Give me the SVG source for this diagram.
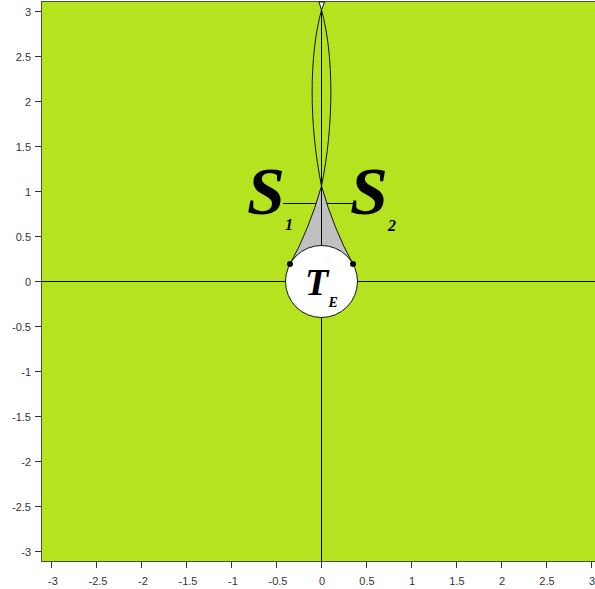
<svg xmlns="http://www.w3.org/2000/svg" width="595" height="589" viewBox="0 0 595 589">
<style>
.ax{stroke:#000;stroke-width:1;fill:none}
.tk{stroke:#333;stroke-width:1}
.lb{font-family:"Liberation Sans",Arial,sans-serif;font-size:11px;fill:#333}
.big{font-family:"Liberation Serif","Times New Roman",serif;font-weight:bold;font-style:italic;fill:#000}
.curve{stroke:#111;stroke-width:1;fill:none}
</style>
<rect x="0" y="0" width="595" height="589" fill="#fff"/>
<rect id="plot" x="41.5" y="1.5" width="560" height="560" fill="#b5e320" stroke="#4a4f3a" stroke-width="1"/>
<g id="xticks">
<g class="tk">
<line x1="51.5" y1="562" x2="51.5" y2="568"/><line x1="96.5" y1="562" x2="96.5" y2="568"/><line x1="141.5" y1="562" x2="141.5" y2="568"/><line x1="186.5" y1="562" x2="186.5" y2="568"/><line x1="231.5" y1="562" x2="231.5" y2="568"/><line x1="276.5" y1="562" x2="276.5" y2="568"/><line x1="321.5" y1="562" x2="321.5" y2="568"/><line x1="366.5" y1="562" x2="366.5" y2="568"/><line x1="411.5" y1="562" x2="411.5" y2="568"/><line x1="456.5" y1="562" x2="456.5" y2="568"/><line x1="501.5" y1="562" x2="501.5" y2="568"/><line x1="546.5" y1="562" x2="546.5" y2="568"/><line x1="591.5" y1="562" x2="591.5" y2="568"/>
</g>
<g class="lb" text-anchor="middle">
<text x="53" y="585">-3</text><text x="98" y="585">-2.5</text><text x="143" y="585">-2</text><text x="188" y="585">-1.5</text><text x="233" y="585">-1</text><text x="278" y="585">-0.5</text><text x="322" y="585">0</text><text x="367" y="585">0.5</text><text x="412" y="585">1</text><text x="457" y="585">1.5</text><text x="502" y="585">2</text><text x="547" y="585">2.5</text><text x="592" y="585">3</text>
</g>
</g>
<g id="yticks">
<g class="tk">
<line x1="35" y1="11.5" x2="41" y2="11.5"/><line x1="35" y1="56.5" x2="41" y2="56.5"/><line x1="35" y1="101.5" x2="41" y2="101.5"/><line x1="35" y1="146.5" x2="41" y2="146.5"/><line x1="35" y1="191.5" x2="41" y2="191.5"/><line x1="35" y1="236.5" x2="41" y2="236.5"/><line x1="35" y1="281.5" x2="41" y2="281.5"/><line x1="35" y1="326.5" x2="41" y2="326.5"/><line x1="35" y1="371.5" x2="41" y2="371.5"/><line x1="35" y1="416.5" x2="41" y2="416.5"/><line x1="35" y1="461.5" x2="41" y2="461.5"/><line x1="35" y1="506.5" x2="41" y2="506.5"/><line x1="35" y1="551.5" x2="41" y2="551.5"/>
</g>
<g class="lb" text-anchor="end">
<text x="31" y="15.5">3</text><text x="31" y="60.5">2.5</text><text x="31" y="105.5">2</text><text x="31" y="150.5">1.5</text><text x="31" y="195.5">1</text><text x="31" y="240.5">0.5</text><text x="31" y="285.5">0</text><text x="31" y="330.5">-0.5</text><text x="31" y="375.5">-1</text><text x="31" y="420.5">-1.5</text><text x="31" y="465.5">-2</text><text x="31" y="510.5">-2.5</text><text x="31" y="555.5">-3</text>
</g>
</g>
<g id="connectors">
<line class="ax" x1="283" y1="203.5" x2="354" y2="203.5"/>
</g>
<g id="teardrop">
<path d="M290,264 Q309,230 321.5,186 Q334,230 353,264 Z" fill="#c0c0c0" stroke="#111" stroke-width="1"/>
</g>
<g id="axes">
<line class="ax" x1="42" y1="281.5" x2="595" y2="281.5"/>
<line class="ax" x1="321.5" y1="2" x2="321.5" y2="561"/>
</g>
<g id="lens">
<path d="M319,2 L321.5,10 L324.5,2 Z" fill="#fff" stroke="#111" stroke-width="1"/>
<path class="curve" d="M321.5,186 C309,125 309,55 321.5,10"/>
<path class="curve" d="M321.5,186 C334,125 334,55 321.5,10"/>
</g>
<g id="TE">
<circle cx="321.5" cy="281.5" r="36" fill="#fff" stroke="#111" stroke-width="1"/>
<circle cx="290" cy="264" r="3" fill="#000"/>
<circle cx="353" cy="264" r="3" fill="#000"/>
<text class="big" x="305" y="295" font-size="38">T</text>
<text class="big" x="328.5" y="307" font-size="14">E</text>
</g>
<g id="S1">
<text class="big" x="247" y="214" font-size="68">S</text>
<text class="big" x="285" y="230" font-size="16">1</text>
</g>
<g id="S2">
<text class="big" x="350" y="214" font-size="68">S</text>
<text class="big" x="388" y="231" font-size="16">2</text>
</g>
</svg>
